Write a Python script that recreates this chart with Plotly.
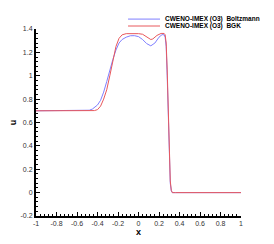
import plotly.graph_objects as go

x_blue = [-1.0, -0.6, -0.52, -0.48, -0.45, -0.42, -0.40, -0.37, -0.34, -0.31, -0.28, -0.25, -0.22, -0.19, -0.16,
          -0.12, -0.08, -0.04, 0.0, 0.04, 0.08, 0.12, 0.16, 0.20, 0.23, 0.25, 0.26, 0.27, 0.28, 0.29, 0.30,
          0.31, 0.32, 0.33, 0.36, 1.0]
u_blue = [0.70, 0.70, 0.70, 0.705, 0.715, 0.735, 0.75, 0.79, 0.86, 0.95, 1.05, 1.14, 1.22, 1.28, 1.31,
          1.33, 1.342, 1.343, 1.335, 1.31, 1.275, 1.256, 1.28, 1.33, 1.352, 1.35, 1.33, 1.25, 1.0, 0.65, 0.30,
          0.08, 0.015, 0.0, 0.0, 0.0]

x_red = [-1.0, -0.6, -0.46, -0.43, -0.40, -0.37, -0.34, -0.31, -0.28, -0.25, -0.22, -0.19, -0.16, -0.12,
         -0.06, 0.0, 0.04, 0.08, 0.12, 0.14, 0.18, 0.22, 0.25, 0.26, 0.27, 0.28, 0.29, 0.30, 0.31, 0.32,
         0.33, 0.36, 1.0]
u_red = [0.70, 0.70, 0.70, 0.702, 0.71, 0.74, 0.80, 0.88, 1.00, 1.13, 1.25, 1.32, 1.35, 1.36,
         1.362, 1.36, 1.355, 1.335, 1.31, 1.315, 1.345, 1.362, 1.362, 1.35, 1.28, 1.05, 0.70, 0.35, 0.10, 0.02,
         0.0, 0.0, 0.0]

names = ["CWENO-IMEX (O3)  Boltzmann", "CWENO-IMEX (O3)  BGK"]
colors = ["#7f7fff", "#e8585c"]

fig = go.Figure()
fig.add_trace(go.Scatter(x=x_blue, y=u_blue, mode="lines", name=names[0],
                         line=dict(color=colors[0], width=1)))
fig.add_trace(go.Scatter(x=x_red, y=u_red, mode="lines", name=names[1],
                         line=dict(color=colors[1], width=1)))

# manual legend (kept outside the plot area without pushing margins)
leg_y = [1.053, 1.016]
for name, col, yy in zip(names, colors, leg_y):
    fig.add_shape(type="line", xref="paper", yref="paper", x0=0.449, x1=0.605, y0=yy, y1=yy,
                  line=dict(color=col, width=1))
    fig.add_annotation(xref="paper", yref="paper", x=0.619, y=yy, text=name, showarrow=False,
                       xanchor="left", yanchor="middle",
                       font=dict(family="Liberation Sans, Arial", size=6.5, color="black", weight="bold"))

tickfont = dict(family="Liberation Sans, Arial", size=7, color="#333")
fig.update_layout(
    width=274, height=244,
    margin=dict(l=28, r=41, t=21, b=36),
    plot_bgcolor="white", paper_bgcolor="white",
    showlegend=False,
)
fig.update_xaxes(range=[-1, 1], tickmode="array", automargin=False,
                 tickvals=[-1, -0.8, -0.6, -0.4, -0.2, 0, 0.2, 0.4, 0.6, 0.8, 1],
                 ticktext=["-1", "-0.8", "-0.6", "-0.4", "-0.2", "0", "0.2", "0.4", "0.6", "0.8", "1"],
                 showline=True, linecolor="black", linewidth=2, mirror=False,
                 ticks="inside", ticklen=4, tickwidth=1.2, tickcolor="black",
                 minor=dict(dtick=0.04, ticks="inside", ticklen=2, tickcolor="black", tickwidth=1),
                 showgrid=False, zeroline=False, tickfont=tickfont,
                 title=dict(text="x", font=dict(family="Liberation Sans, Arial", size=9, color="black", weight="bold"),
                            standoff=0))
fig.update_yaxes(range=[-0.2, 1.4], tickmode="array", automargin=False,
                 tickvals=[-0.2, 0, 0.2, 0.4, 0.6, 0.8, 1, 1.2, 1.4],
                 ticktext=["-0.2", "0", "0.2", "0.4", "0.6", "0.8", "1", "1.2", "1.4"],
                 showline=True, linecolor="black", linewidth=2, mirror=False,
                 ticks="inside", ticklen=4, tickwidth=1.2, tickcolor="black",
                 minor=dict(dtick=0.04, ticks="inside", ticklen=2, tickcolor="black", tickwidth=1),
                 showgrid=False, zeroline=False, tickfont=tickfont,
                 title=dict(text="u", font=dict(family="Liberation Sans, Arial", size=9, color="black", weight="bold"),
                            standoff=4))
fig.write_html("out.html")
